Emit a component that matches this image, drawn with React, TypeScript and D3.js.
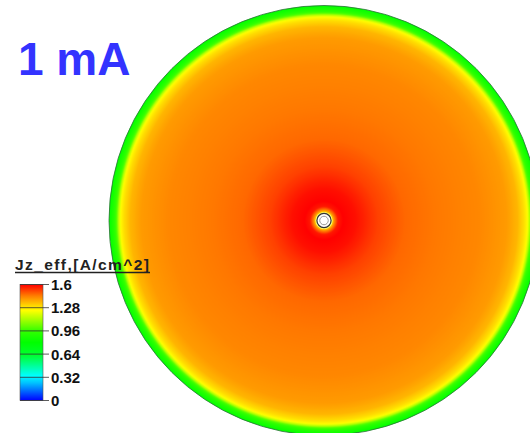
import React from "react";
import * as d3 from "d3";

// Colour map of the contour legend (value -> colour)
const CMAP_VALUES = [0, 0.12, 0.24, 0.34, 0.48, 0.62, 0.8, 0.96, 1.12, 1.24, 1.3, 1.44, 1.6];
const CMAP_COLORS = [
  "#0000ff", "#0060ff", "#00c0ff", "#00ffff", "#00ff99", "#00ff33",
  "#00ff00", "#33ff00", "#aaff00", "#ffff00", "#ffdd00", "#ff8000", "#ff0000",
];

// Legend ticks
const LEGEND_TICKS = [0, 0.32, 0.64, 0.96, 1.28, 1.6];
const LEGEND_TITLE = "Jz_eff,[A/cm^2]";
const PLOT_TITLE = "1 mA";

// Radial profile of effective current density (normalised radius -> Jz_eff)
const PROFILE_RADIUS = [0.033, 0.047, 0.065, 0.09, 0.15, 0.25, 0.38, 0.52, 0.72, 0.85, 0.9, 0.93, 0.945, 0.955, 0.965, 0.98, 1.0];
const PROFILE_JZ = [1.22, 1.42, 1.57, 1.6, 1.58, 1.52, 1.47, 1.45, 1.43, 1.4, 1.36, 1.3, 1.25, 1.15, 1.0, 0.9, 0.8];
const HOLE_RADIUS = 0.033;

const W = 530;
const H = 433;

export default function App() {
  const cx = 324;
  const cy = 220.5;
  const R = 215;

  const color = d3
    .scaleLinear<string>()
    .domain(CMAP_VALUES)
    .range(CMAP_COLORS)
    .interpolate(d3.interpolateRgb)
    .clamp(true);

  const profile = d3.scaleLinear().domain(PROFILE_RADIUS).range(PROFILE_JZ).clamp(true);

  const offsets = d3.range(0, 1.0001, 0.004);
  const diskStops = offsets.map((o) => ({ o, c: color(profile(o)) }));

  // legend
  const barX = 20;
  const barW = 23;
  const y = d3.scaleLinear().domain([0, 1.6]).range([400.5, 284.5]);
  const barStops = d3.range(0, 1.6001, 0.02).map((v) => ({ o: v / 1.6, c: color(v) }));

  return (
    <svg
      width={W}
      height={H}
      style={{ position: "fixed", left: 0, top: 0, background: "#fff" }}
      fontFamily="'Liberation Sans', Arial, sans-serif"
    >
      <defs>
        <radialGradient id="disk" gradientUnits="userSpaceOnUse" cx={cx} cy={cy} r={R}>
          {diskStops.map((s, i) => (
            <stop key={i} offset={s.o} stopColor={s.c} />
          ))}
        </radialGradient>
        <linearGradient id="bar" x1="0" y1="1" x2="0" y2="0">
          {barStops.map((s, i) => (
            <stop key={i} offset={s.o} stopColor={s.c} />
          ))}
        </linearGradient>
      </defs>
      <rect width={W} height={H} fill="#fff" />

      {/* contour disk */}
      <circle cx={cx} cy={cy} r={R} fill="url(#disk)" stroke="#2f6f3a" strokeWidth={0.8} />
      <circle cx={cx} cy={cy} r={HOLE_RADIUS * R + 1.5} fill="#ffffb0" opacity={0.7} />
      <circle cx={cx} cy={cy} r={HOLE_RADIUS * R} fill="#fff" stroke="#333" strokeWidth={1.2} />
      <circle cx={cx} cy={cy} r={HOLE_RADIUS * R * 0.6} fill="none" stroke="#9a9a9a" strokeWidth={1} />

      {/* title */}
      <text x={18} y={75} fontSize={46} fontWeight="bold" fill="#3333ff">
        {PLOT_TITLE}
      </text>

      {/* legend */}
      <text x={15} y={269.5} fontSize={15.5} fontWeight="bold" fill="#222" textLength={134} lengthAdjust="spacing">
        {LEGEND_TITLE}
      </text>
      <line x1={15} x2={150} y1={272.5} y2={272.5} stroke="#222" strokeWidth={1.3} />
      <rect x={barX} y={y(1.6)} width={barW} height={y(0) - y(1.6)} fill="url(#bar)" stroke="#555" strokeWidth={0.6} />
      {LEGEND_TICKS.map((t) => (
        <g key={t}>
          <line x1={barX} x2={barX + barW + 6} y1={y(t)} y2={y(t)} stroke="#333" strokeWidth={0.8} />
          <text x={51} y={y(t)} dy="0.36em" fontSize={15} fontWeight="bold" fill="#111">
            {String(t)}
          </text>
        </g>
      ))}
    </svg>
  );
}
